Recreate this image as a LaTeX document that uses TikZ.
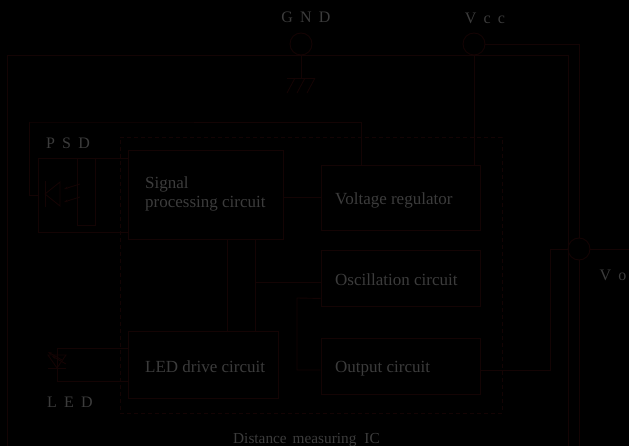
\documentclass[tikz,border=0pt]{standalone}
\usepackage{fontspec}
\setmainfont{Liberation Serif}
\usetikzlibrary{calc,arrows.meta}
\definecolor{wirecol}{RGB}{20,4,4}
\definecolor{txtcol}{RGB}{60,60,60}
\tikzset{
  wire/.style={draw=wirecol, line width=0.9pt},
  blk/.style={draw=wirecol, line width=0.9pt, rectangle, inner sep=0pt},
  blktxt/.style={text=txtcol, font=\fontsize{17}{19}\selectfont, inner sep=0pt, anchor=base west},
  pin/.style={draw=wirecol, line width=0.9pt, circle, minimum size=22pt, inner sep=0pt},
  pinlbl/.style={text=txtcol, font=\fontsize{16}{18}\selectfont, inner sep=0pt},
}
\newcommand{\gap}{\hspace{0.45em}}
\begin{document}
\begin{tikzpicture}[x=1pt, y=-1pt]
  % --- page (black) ---
  \fill[black] (0,0) rectangle (629,446);
  \useasboundingbox (0,0) rectangle (629,446);

  % --- housing outline ---
  \draw[wire] (7,446) -- (7,55) -- (568,55) -- (568,446);

  % --- terminals ---
  \node[pin] (gndpin) at (301,44) {};
  \node[pin] (vccpin) at (474,44) {};
  \node[pin] (vopin)  at (579,249) {};
  \node[pinlbl] (gndlbl) at (306,17) {G\gap N\gap D};
  \node[pinlbl] (vcclbl) at (485,18) {V\gap c\gap c};
  \node[pinlbl] (volbl)  at (613,275) {V\gap o};

  % --- distance measuring IC (dashed) ---
  \node[draw=wirecol, line width=0.9pt, dash pattern=on 4pt off 3pt,
        minimum width=382pt, minimum height=276pt, inner sep=0pt] (ic) at (311,275) {};
  \node[pinlbl, font=\fontsize{15.3}{18}\selectfont, anchor=base west] (iclbl) at (233,443)
    {Distance\hspace{6pt}measuring\hspace{8pt}IC};

  % --- circuit blocks ---
  \node[blk, minimum width=155pt, minimum height=89pt] (sigproc) at (205.5,194.5) {};
  \node[blk, minimum width=159pt, minimum height=65pt] (vreg) at (400.5,197.5) {};
  \node[blk, minimum width=159pt, minimum height=56pt] (osc)  at (400.5,278) {};
  \node[blk, minimum width=159pt, minimum height=56pt] (outc) at (400.5,366) {};
  \node[blk, minimum width=150pt, minimum height=67pt] (leddrv) at (203,364.5) {};

  % --- block texts ---
  \node[blktxt] (sigtxta) at (145,189) {Signal};
  \node[blktxt] (sigtxtb) at (145,208) {processing circuit};
  \node[blktxt] (vregtxt) at (335,205) {Voltage regulator};
  \node[blktxt] (osctxt)  at (335,286) {Oscillation circuit};
  \node[blktxt] (outtxt)  at (335,372) {Output circuit};
  \node[blktxt] (ledtxt)  at (145,372) {LED drive circuit};

  % --- PSD ---
  \node[draw=wirecol, line width=0.9pt, minimum width=90pt, minimum height=74pt, inner sep=0pt] (psd) at (83,195) {};
  \node[pinlbl] (psdlbl) at (68,143) {P\gap S\gap D};
  \draw[wire] (45,181) -- (45,207);
  \draw[wire] (45,194) -- (60,182) -- (60,206) -- cycle;
  \draw[wire, -{Stealth[length=4pt]}] (80,184) -- (64,189);
  \draw[wire, -{Stealth[length=4pt]}] (80,197) -- (64,202);
  \draw[wire] (77,158) -- (77,225) -- (95,225) -- (95,158);

  % --- LED ---
  \node[draw=wirecol, line width=0.9pt, minimum width=71pt, minimum height=33pt, inner sep=0pt] (led) at (92.5,364.5) {};
  \node[pinlbl] (ledlbl) at (70,402) {L\gap E\gap D};
  \draw[wire] (48,355) -- (66,355) -- (57,368) -- cycle;
  \draw[wire] (48,368) -- (66,368);
  \draw[wire] (57,348) -- (57,377);
  \draw[wire, -{Stealth[length=4pt]}] (62,360) -- (48,352);
  \draw[wire, -{Stealth[length=4pt]}] (66,364) -- (52,356);

  % --- bend points ---
  \coordinate (psdbend) at (30,122);
  \coordinate (spa) at (227,239);
  \coordinate (spb) at (255,239);
  \coordinate (oscbend) at (297,298);
  \coordinate (vobend) at (550,370);
  \coordinate (voend) at (629,249);
  \coordinate (vobot) at (579,446);
  \coordinate (gndbar) at (301,78);

  % --- connections ---
  \draw[wire] (psd.west) -- ++(-8,0) |- (psdbend) -| ($(vreg.north west)+(41,0)$);
  \draw[wire] (sigproc.east |- vreg.west) -- (vreg.west);
  \draw[wire] (spa) -- (spa |- leddrv.north);
  \draw[wire] (spb) -- (spb |- leddrv.north);
  \draw[wire] ($(osc.west)+(0,4)$) -- ($(osc.west -| spb)+(0,4)$);
  \draw[wire] ($(osc.south west)+(0,-8)$) -- (oscbend) |- ($(outc.west)+(0,4)$);
  \draw[wire] ($(outc.east)+(0,4)$) -- (vobend) |- (vopin.west);
  \draw[wire] (vopin.east) -- (voend);
  \draw[wire] (vopin.south) -- (vobot);
  \draw[wire] (vccpin.east) -| (vopin.north);
  \draw[wire] (vccpin.south) -- (vccpin.south |- vreg.north);

  % --- ground ---
  \draw[wire] (gndpin.south) -- (gndbar);
  \draw[wire] ($(gndbar)+(-14,0)$) -- ($(gndbar)+(14,0)$);
  \foreach \dx in {-10,0,10}
    \draw[wire] ($(gndbar)+(\dx-4,15)$) -- ($(gndbar)+(\dx+4,0)$);
\end{tikzpicture}
\end{document}
